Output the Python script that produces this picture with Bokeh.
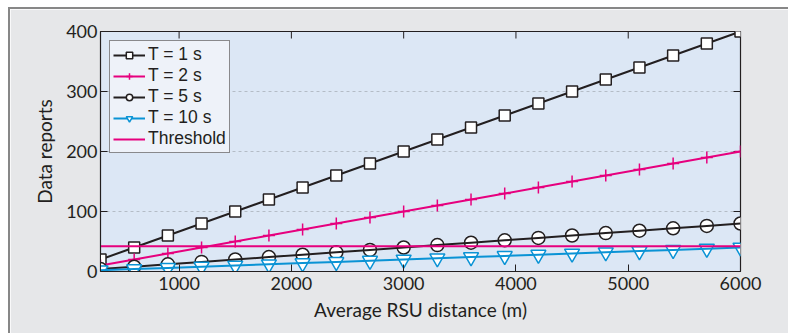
from bokeh.plotting import figure
from bokeh.models import FixedTicker, Range1d, Legend, LegendItem
from bokeh.embed import file_html
from bokeh.resources import INLINE

# ---- data ----
distance = [300, 600, 900, 1200, 1500, 1800, 2100, 2400, 2700, 3000,
            3300, 3600, 3900, 4200, 4500, 4800, 5100, 5400, 5700, 6000]
t1 = [20, 40, 60, 80, 100, 120, 140, 160, 180, 200,
      220, 240, 260, 280, 300, 320, 340, 360, 380, 400]
t2 = [10, 20, 30, 40, 50, 60, 70, 80, 90, 100,
      110, 120, 130, 140, 150, 160, 170, 180, 190, 200]
t5 = [4, 8, 12, 16, 20, 24, 28, 32, 36, 40,
      44, 48, 52, 56, 60, 64, 68, 72, 76, 80]
t10 = [2, 4, 6, 8, 10, 12, 14, 16, 18, 20,
       22, 24, 26, 28, 30, 32, 34, 36, 38, 40]
threshold = [42, 42, 42, 42, 42, 42, 42, 42, 42, 42,
             42, 42, 42, 42, 42, 42, 42, 42, 42, 42]
x_ticks = [1000, 2000, 3000, 4000, 5000, 6000]
y_ticks = [0, 100, 200, 300, 400]
legend_labels = ["T = 1 s", "T = 2 s", "T = 5 s", "T = 10 s", "Threshold"]

BLACK = "#231f20"
PINK = "#e6007e"
BLUE = "#0a93d5"
FONT = "Lato"
LEGEND_FONT = "Liberation Sans"

x_min, x_max = 300, 6000
y_min, y_max = 0, 400

p = figure(width=780, height=326, output_backend="svg", toolbar_location=None,
           x_range=Range1d(x_min, x_max), y_range=Range1d(y_min, y_max),
           min_border_left=90, min_border_right=50, min_border_top=22,
           min_border_bottom=64)
p.styles = {"margin-left": "8px", "margin-top": "7px",
            "border-top": "2px solid #878787", "border-left": "2px solid #878787"}
p.background_fill_color = "#dce7f5"
p.border_fill_color = "#e6e7e9"
p.outline_line_color = BLACK
p.outline_line_width = 1.2

# grid
p.xgrid.grid_line_color = None
p.ygrid.ticker = FixedTicker(ticks=[100, 200, 300])
p.ygrid.grid_line_color = "#b4bcc6"
p.ygrid.grid_line_dash = "3 3"
p.ygrid.grid_line_width = 1

# axes
for ax, ticks in ((p.xaxis[0], x_ticks), (p.yaxis[0], y_ticks)):
    ax.ticker = FixedTicker(ticks=ticks)
    ax.major_tick_in = 7
    ax.major_tick_out = 0
    ax.minor_tick_line_color = None
    ax.major_tick_line_color = BLACK
    ax.axis_line_color = BLACK
    ax.major_label_text_font = FONT
    ax.major_label_text_font_size = "18px"
    ax.major_label_text_color = BLACK
    ax.axis_label_text_font = FONT
    ax.axis_label_text_font_size = "19px"
    ax.axis_label_text_font_style = "normal"
    ax.axis_label_text_color = BLACK

p.xaxis[0].axis_label = "Average RSU distance (m)"
p.xaxis[0].major_label_standoff = 5
p.xaxis[0].axis_label_standoff = 5
p.yaxis[0].axis_label = "Data reports"
p.yaxis[0].major_label_standoff = 3
p.yaxis[0].axis_label_standoff = 7

# inward ticks on the top and right frame edges (outer half clipped by the frame)
p.rect(x=x_ticks, y=[y_max] * len(x_ticks), width=1, height=14,
       width_units="screen", height_units="screen",
       fill_color=BLACK, line_color=None)
p.rect(x=[x_max] * 3, y=y_ticks[1:4], width=14, height=1,
       width_units="screen", height_units="screen",
       fill_color=BLACK, line_color=None)

# series
l1 = p.line(distance, t1, line_color=BLACK, line_width=2)
m1 = p.scatter(distance, t1, marker="square", size=11, fill_color="white",
               line_color=BLACK, line_width=1.5)
l2 = p.line(distance, t2, line_color=PINK, line_width=2)
m2 = p.scatter(distance, t2, marker="cross", size=12, line_color=PINK, line_width=1.5)
m5 = p.scatter(distance, t5, marker="circle", size=13, fill_color="white",
               line_color=BLACK, line_width=1.5)
l5 = p.line(distance, t5, line_color=BLACK, line_width=2)
m10 = p.scatter(distance, t10, marker="inverted_triangle", size=15, fill_color="white",
                line_color=BLUE, line_width=1.5)
l10 = p.line(distance, t10, line_color=BLUE, line_width=2)
lt = p.line(distance, threshold, line_color=PINK, line_width=2)

legend = Legend(items=[
    LegendItem(label=legend_labels[0], renderers=[l1, m1]),
    LegendItem(label=legend_labels[1], renderers=[l2, m2]),
    LegendItem(label=legend_labels[2], renderers=[l5, m5]),
    LegendItem(label=legend_labels[3], renderers=[l10, m10]),
    LegendItem(label=legend_labels[4], renderers=[lt]),
], location="top_left")
legend.margin = 9
legend.padding = 3
legend.spacing = 0
legend.label_height = 16
legend.glyph_height = 16
legend.glyph_width = 32
legend.label_standoff = 3
legend.label_text_font = LEGEND_FONT
legend.label_text_font_size = "17.5px"
legend.label_text_color = BLACK
legend.background_fill_color = "#eef2f9"
legend.background_fill_alpha = 1
legend.border_line_color = BLACK
legend.border_line_width = 1
p.add_layout(legend, "center")

open("out.html", "w").write(file_html(p, INLINE))
